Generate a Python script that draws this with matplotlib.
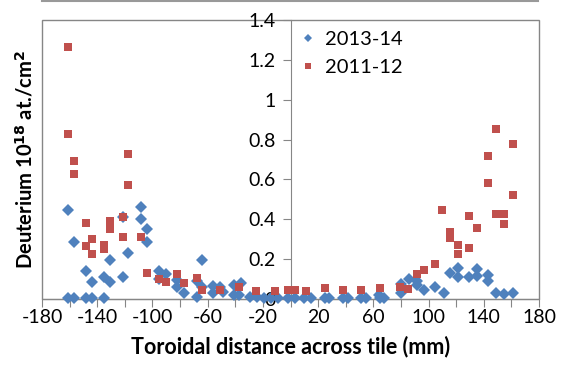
import matplotlib
matplotlib.use("Agg")
import matplotlib.pyplot as plt
from matplotlib.lines import Line2D
from matplotlib.patches import Rectangle

# 2013-14 series (blue diamonds)
x_1314 = [-161, -157, -161, -157, -148, -144, -135, -148, -144, -135, -130.5, -130.5,
          -121, -121, -118, -108, -108, -104, -104, -95, -95, -90.5, -82, -82, -77,
          -68, -68, -64, -64, -56, -56, -51, -49, -41, -36, -41, -37, -29, -24, -19,
          -14, -9, -2, 3, 10, 15, 25, 28, 38, 42, 51, 55, 65, 68, 64, 80, 80, 86,
          91.5, 91.5, 97, 105, 111, 115.5, 121.6, 121.6, 129, 135, 135, 143, 143,
          149, 155, 161]
y_1314 = [0.445, 0.287, 0.005, 0.005, 0.005, 0.005, 0.005, 0.14, 0.087, 0.108, 0.083, 0.195,
          0.41, 0.11, 0.23, 0.46, 0.40, 0.35, 0.287, 0.14, 0.10, 0.125, 0.095, 0.06, 0.03,
          0.09, 0.012, 0.195, 0.06, 0.065, 0.03, 0.06, 0.035, 0.07, 0.08, 0.02, 0.02, 0.01, 0.01, 0.005,
          0.005, 0.005, 0.005, 0.005, 0.005, 0.005, 0.005, 0.005, 0.005, 0.005, 0.005, 0.005, 0.005, 0.005, 0.02, 0.075, 0.028, 0.098,
          0.088, 0.07, 0.045, 0.058, 0.03, 0.13, 0.158, 0.108, 0.11, 0.153, 0.115, 0.12, 0.09,
          0.03, 0.025, 0.03]

# 2011-12 series (red squares)
x_1112 = [-161, -161, -157, -157, -118, -118, -121, -148, -130.5, -130.5, -144, -148,
          -135, -135, -144, -121, -108, -104, -95, -90.5, -82, -77, -68, -64, -51, -37,
          -25, -11, -2, 3, 11.5, 25, 38, 51, 64.6, 79, 85, 91.5, 97, 104.6, 110, 115.5,
          115.5, 121.6, 121.6, 129, 129, 135, 143, 143, 149, 149, 155, 155, 161, 161]
y_1112 = [1.267, 0.83, 0.69, 0.625, 0.73, 0.57, 0.41, 0.383, 0.39, 0.35, 0.30, 0.267,
          0.27, 0.25, 0.228, 0.31, 0.31, 0.13, 0.10, 0.083, 0.126, 0.08, 0.107, 0.045, 0.045, 0.058,
          0.04, 0.038, 0.043, 0.043, 0.04, 0.055, 0.045, 0.045, 0.055, 0.058, 0.048, 0.125, 0.148, 0.175, 0.445, 0.336,
          0.308, 0.27, 0.225, 0.415, 0.257, 0.358, 0.72, 0.58, 0.855, 0.428, 0.428, 0.378, 0.778, 0.523]

x_ticks = list(range(-180, 181, 20))
x_labels = [str(t) if (t + 180) % 40 == 0 else "" for t in x_ticks]
y_ticks = [0, 0.2, 0.4, 0.6, 0.8, 1.0, 1.2, 1.4]
y_labels = ["0", "0.2", "0.4", "0.6", "0.8", "1", "1.2", "1.4"]

plt.rcParams['font.family'] = ['Lato', 'DejaVu Sans']
BLUE = "#4F81BD"
RED = "#C0504D"
GRAY = "#868686"

fig = plt.figure(figsize=(5.67, 3.69), dpi=100)
ax = fig.add_axes([42/567, 1 - 299/369, (539-42)/567, (299-20)/369])

ax.plot(x_1314, y_1314, linestyle="none", marker="D", markersize=6, color=BLUE,
        markeredgewidth=0, label="2013-14", clip_on=False, zorder=3)
ax.plot(x_1112, y_1112, linestyle="none", marker="s", markersize=5.2, color=RED,
        markeredgewidth=0, label="2011-12", clip_on=False, zorder=3)

ax.set_xlim(-180, 180)
ax.set_ylim(0, 1.4)

for s in ["top", "right"]:
    ax.spines[s].set_visible(False)
ax.spines["left"].set_position(("data", 0))
ax.spines["left"].set_color(GRAY)
ax.spines["bottom"].set_color(GRAY)
ax.add_patch(Rectangle((0, 0), 1, 1, transform=ax.transAxes, fill=False,
                       edgecolor=GRAY, linewidth=1, clip_on=False, zorder=1))

ax.set_xticks(x_ticks)
ax.set_xticklabels(x_labels)
ax.set_yticks(y_ticks)
ax.set_yticklabels(y_labels)
ax.tick_params(axis="both", direction="out", length=5.5, color=GRAY, labelsize=14,
               labelcolor="black")
ax.tick_params(axis="x", pad=2)
ax.tick_params(axis="y", pad=5)

ax.set_xlabel("Toroidal distance across tile (mm)", fontsize=15.5, fontweight="bold", labelpad=7)
ax.set_ylabel(r"Deuterium 10$^{\mathbf{18}}$ at./cm$^{\mathbf{2}}$", fontsize=14.5, fontweight="bold")
ax.yaxis.set_label_coords(-0.012, 0.5)

ax.legend(loc="upper left", bbox_to_anchor=(0.475, 1.025), frameon=False, fontsize=14.5,
          markerscale=0.75, handletextpad=0.25, labelspacing=0.55, handlelength=1.2)

fig.add_artist(Line2D([42/567, 538/567], [1 - 1/369, 1 - 1/369], color="#999999", lw=1.5))

fig.savefig("out.png", dpi=100)
